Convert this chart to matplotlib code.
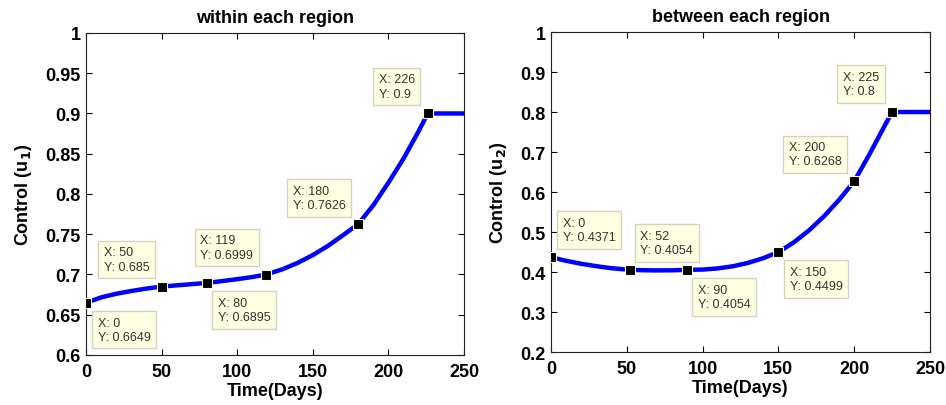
import matplotlib.pyplot as plt
from matplotlib.ticker import FuncFormatter

plt.rcParams['font.family'] = ['Liberation Sans', 'DejaVu Sans']

# Control u1 (within each region)
days1 = [0, 10, 20, 30, 40, 50, 60, 70, 80, 90, 100, 110, 119, 130, 140, 150,
         160, 170, 180, 190, 200, 210, 220, 226, 235, 250]
u1 = [0.6649, 0.6715, 0.676, 0.6795, 0.6825, 0.685, 0.6865, 0.688, 0.6895,
      0.6918, 0.6942, 0.6968, 0.6999, 0.7065, 0.7144, 0.7241, 0.7355, 0.7488,
      0.7626, 0.786, 0.814, 0.844, 0.878, 0.9, 0.9, 0.9]

# Control u2 (between each region)
days2 = [0, 10, 20, 30, 40, 52, 60, 70, 80, 90, 100, 110, 120, 130, 140, 150,
         160, 170, 180, 190, 200, 210, 220, 225, 235, 250]
u2 = [0.4371, 0.428, 0.4205, 0.4145, 0.4095, 0.4054, 0.4045, 0.404, 0.4043,
      0.4054, 0.4061, 0.409, 0.4144, 0.4229, 0.4346, 0.4499, 0.4738, 0.5035,
      0.539, 0.5803, 0.6268, 0.694, 0.765, 0.8, 0.8, 0.8]

# data tips
tips1_x = [0, 50, 80, 119, 180, 226]
tips1_y = [0.6649, 0.685, 0.6895, 0.6999, 0.7626, 0.9]
tips2_x = [0, 52, 90, 150, 200, 225]
tips2_y = [0.4371, 0.4054, 0.4054, 0.4499, 0.6268, 0.8]

# box offsets in pixels from each tip
offs1 = [(38, -27), (-35, 27), (37, -27), (-39, 27), (-39, 26), (-31, 27)]
offs2 = [(38, 27), (37, 27), (37, -27), (38, -27), (-39, 27), (-31, 28)]

fig = plt.figure(figsize=(9.46, 4.06), dpi=100)
ax1 = fig.add_axes([0.0909, 0.1232, 0.3996, 0.7931])
ax2 = fig.add_axes([0.5825, 0.1305, 0.4006, 0.7882])

fmt = FuncFormatter(lambda v, p: f"{v:g}")


def draw(ax, t, u, tx, ty, offs, ylim, yticks, title, ylabel):
    ax.plot(t, u, color='#0000FF', lw=3.2, solid_capstyle='butt', zorder=2)
    ax.plot(tx, ty, 's', color='black', ms=7.5, mec='#FFFFE1', mew=0.8, zorder=4)
    for x, y, (dx, dy) in zip(tx, ty, offs):
        ax.annotate(f"X: {x:g}\nY: {y:g}", (x, y), xytext=(dx, dy),
                    textcoords='offset pixels', ha='center', va='center',
                    multialignment='left', fontsize=9, color='#333333',
                    linespacing=1.25, zorder=5,
                    bbox=dict(boxstyle='square,pad=0.45', fc='#FFFFE1',
                              ec='#D2D2C4', lw=1))
    ax.set_xlim(0, 250)
    ax.set_ylim(*ylim)
    ax.set_xticks([0, 50, 100, 150, 200, 250])
    ax.set_yticks(yticks)
    ax.yaxis.set_major_formatter(fmt)
    ax.tick_params(direction='in', top=True, right=True, length=4,
                   labelsize=13, width=0.8)
    ax.tick_params(axis='x', pad=6)
    ax.tick_params(axis='y', pad=4)
    for lbl in ax.get_xticklabels() + ax.get_yticklabels():
        lbl.set_fontweight('bold')
    for s in ax.spines.values():
        s.set_linewidth(0.8)
        s.set_color('#222222')
    ax.set_title(title, fontsize=13, fontweight='bold', pad=8)
    ax.set_xlabel('Time(Days)', fontsize=13, fontweight='bold', labelpad=1)
    ax.set_ylabel(ylabel, fontsize=13, fontweight='bold', labelpad=8)


draw(ax1, days1, u1, tips1_x, tips1_y, offs1, (0.6, 1),
     [0.6, 0.65, 0.7, 0.75, 0.8, 0.85, 0.9, 0.95, 1],
     'within each region', r'Control (u$_\mathbf{1}$)')
draw(ax2, days2, u2, tips2_x, tips2_y, offs2, (0.2, 1),
     [0.2, 0.3, 0.4, 0.5, 0.6, 0.7, 0.8, 0.9, 1],
     'between each region', r'Control (u$_\mathbf{2}$)')

fig.savefig('out.png', dpi=100)
